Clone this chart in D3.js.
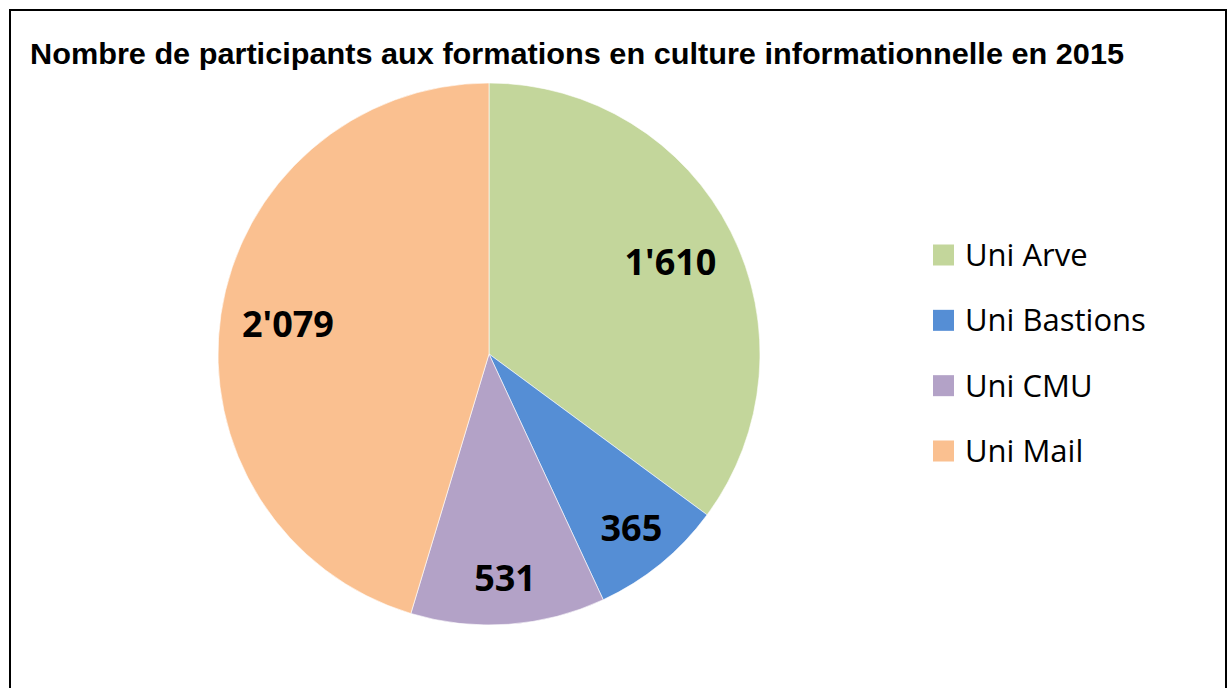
<!DOCTYPE html>
<html><head><meta charset="utf-8">
<script src="https://cdn.jsdelivr.net/npm/d3@7"></script>
<style>body{margin:0;background:#fff}svg{display:block}</style>
</head><body>
<svg id="c" width="1228" height="688"></svg>
<script>
const title = "Nombre de participants aux formations en culture informationnelle en 2015";
const categories = ["Uni Arve", "Uni Bastions", "Uni CMU", "Uni Mail"];
const values = [1610, 365, 531, 2079];
const labels = ["1'610", "365", "531", "2'079"];
const colors = ["#C3D69B", "#558ED5", "#B3A2C7", "#FAC090"];

const svg = d3.select("#c");
svg.append("rect").attr("x", 10).attr("y", 10).attr("width", 1216).attr("height", 700)
  .attr("fill", "#fff").attr("stroke", "#000").attr("stroke-width", 2);

svg.append("text").attr("x", 30).attr("y", 64)
  .attr("font-family", "Liberation Sans, Arial, sans-serif").attr("font-weight", "bold")
  .attr("font-size", 30).attr("fill", "#000")
  .attr("textLength", 1094).attr("lengthAdjust", "spacingAndGlyphs").text(title);

const cx = 489, cy = 354, r = 271;
const pie = d3.pie().sort(null).value(d => d)(values);
const arc = d3.arc().innerRadius(0).outerRadius(r);
const g = svg.append("g").attr("transform", `translate(${cx},${cy})`);
g.selectAll("path").data(pie).join("path")
  .attr("d", arc).attr("fill", (d, i) => colors[i])
  .attr("stroke", "#fff").attr("stroke-width", 0.6);

g.selectAll("text.lbl").data(pie).join("text").attr("class", "lbl")
  .attr("transform", d => {
    const span = d.endAngle - d.startAngle;
    const lr = span < Math.PI / 3 ? r * 0.83 : r * 0.75;
    const a = (d.startAngle + d.endAngle) / 2;
    return `translate(${lr * Math.sin(a)},${-lr * Math.cos(a)})`;
  })
  .attr("text-anchor", "middle").attr("dy", "0.36em")
  .attr("font-family", "Open Sans, sans-serif").attr("font-weight", "bold")
  .attr("font-size", 36).attr("fill", "#000")
  .text((d, i) => labels[i]);

const lg = svg.append("g");
const ly = d3.scalePoint().domain(categories).range([255, 451]);
categories.forEach((c, i) => {
  lg.append("rect").attr("x", 933).attr("y", ly(c) - 10.5).attr("width", 21).attr("height", 21)
    .attr("fill", colors[i]);
  lg.append("text").attr("x", 965).attr("y", ly(c)).attr("dy", "0.36em")
    .attr("font-family", "Open Sans, sans-serif").attr("font-size", 31).attr("fill", "#000")
    .text(c);
});
</script>
</body></html>
